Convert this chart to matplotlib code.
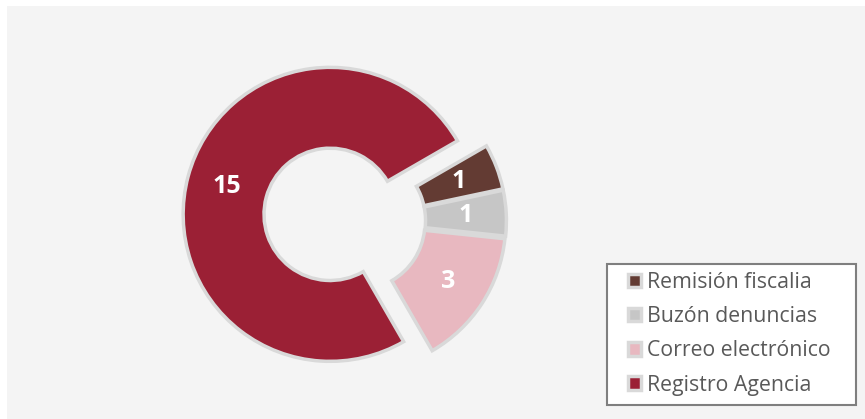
import numpy as np
import matplotlib.pyplot as plt
from matplotlib.patches import Rectangle

plt.rcParams['font.family'] = ['Open Sans', 'DejaVu Sans']

labels = ['Remisión fiscalia', 'Buzón denuncias', 'Correo electrónico', 'Registro Agencia']
values = [1, 1, 3, 15]
colors = ['#633b33', '#c6c6c6', '#e8b8c0', '#9b2035']
explode = [0.03, 0.03, 0.03, 0.175]

W, H = 865, 419
fig = plt.figure(figsize=(W / 100, H / 100), dpi=100)
fig.patch.set_facecolor('white')
# light gray panel behind the chart
fig.patches.append(Rectangle((7 / W, 0), 1, 1 - 6 / H, transform=fig.transFigure,
                             facecolor='#f4f4f4', edgecolor='none', zorder=-10))

# pie origin at (355, 221) px from top-left
ax = fig.add_axes([155 / W, (H - 221 - 200) / H, 400 / W, 400 / H])
ax.set_facecolor('none')

wedges, texts = ax.pie(values, colors=colors, explode=explode, startangle=30,
                       counterclock=False, radius=1,
                       wedgeprops=dict(width=0.55, edgecolor='#d9d9d9', linewidth=2.5))

# value labels in the middle of the ring
for w, v in zip(wedges, values):
    ang = np.deg2rad((w.theta1 + w.theta2) / 2)
    cx, cy = w.center
    r = w.r - w.width / 2
    ax.text(cx + r * np.cos(ang), cy + r * np.sin(ang), str(v), ha='center', va='center',
            color='white', fontsize=18, fontweight='bold')

L = 200 / 147
ax.set_xlim(-L, L)
ax.set_ylim(-L, L)
ax.set_aspect('equal')
ax.axis('off')

# legend box
fig.patches.append(Rectangle((607 / W, 1 - 405 / H), (856 - 607) / W, (405 - 264) / H,
                             transform=fig.transFigure, facecolor='white',
                             edgecolor='#7f7f7f', linewidth=1.5, zorder=1))
leg = fig.legend(wedges, labels, loc='upper left', bbox_to_anchor=(628 / W, 1 - 272 / H),
                 frameon=False, fontsize=15.3, handlelength=0.6, handleheight=0.6,
                 handletextpad=0.3, labelspacing=0.62, borderpad=0, labelcolor='#595959',
                 borderaxespad=0)
leg.set_zorder(2)

fig.savefig('out.png', dpi=100, facecolor=fig.get_facecolor())
